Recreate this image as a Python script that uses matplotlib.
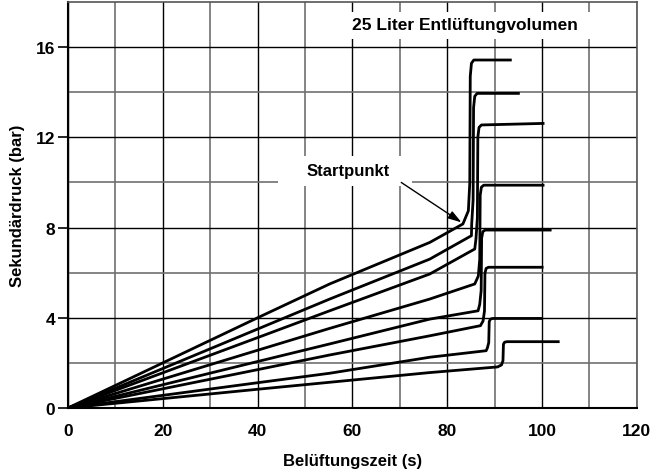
import matplotlib.pyplot as plt
from matplotlib.patches import Rectangle

plt.rcParams['font.family'] = ['Liberation Sans', 'DejaVu Sans']
plt.rcParams['font.weight'] = 'bold'

# ramp points (time s, pressure bar), one list per curve
ramp_x = [
    [0, 40, 55.2, 76.3, 83.3],
    [0, 40, 55.2, 76.3, 85.1],
    [0, 40, 55.2, 76.3, 85.8],
    [0, 40, 55.2, 76.3, 85.8],
    [0, 40, 55.2, 76.3, 86.5],
    [0, 40, 55.2, 76.3, 87.0],
    [0, 40, 55.2, 76.3, 88.2],
    [0, 40, 55.2, 76.3, 90.6],
]
ramp_y = [
    [0, 4.0, 5.50, 7.34, 8.16],
    [0, 3.5, 4.83, 6.60, 7.64],
    [0, 3.12, 4.31, 5.94, 7.05],
    [0, 2.56, 3.53, 4.83, 5.50],
    [0, 2.06, 2.84, 3.94, 4.31],
    [0, 1.70, 2.35, 3.20, 3.65],
    [0, 1.12, 1.54, 2.25, 2.54],
    [0, 0.83, 1.14, 1.57, 1.82],
]
jump_x = [84.8, 85.5, 86.4, 86.9, 87.2, 87.9, 88.8, 91.8]
plateau = [15.43, 13.95, 12.55, 9.88, 7.89, 6.24, 3.97, 2.94]
plateau_end = [15.43, 13.95, 12.62, 9.88, 7.89, 6.24, 3.97, 2.94]
end_x = [93.6, 95.3, 100.5, 100.5, 102.0, 100.3, 100.2, 103.7]

fig = plt.figure(figsize=(6.6, 4.77), dpi=100)
ax = fig.add_axes([0.103, 0.1426, 0.862, 0.851])

for i in range(len(plateau)):
    knee = ramp_y[i][-1]
    d = plateau[i] - knee
    xs = ramp_x[i] + [jump_x[i] - 0.35, jump_x[i] - 0.05, jump_x[i] + 0.05,
                      jump_x[i] + 0.3, jump_x[i] + 0.8, end_x[i]]
    ys = ramp_y[i] + [knee + 0.08 * d, knee + 0.25 * d, plateau[i] - 0.1 * d,
                      plateau[i] - 0.02 * d, plateau[i], plateau_end[i]]
    ax.plot(xs, ys, color='black', lw=2.0, solid_joinstyle='round',
            solid_capstyle='butt', zorder=3)

ax.set_xlim(0, 120)
ax.set_ylim(0, 18)
ax.set_xticks(range(0, 121, 20))
ax.set_xticks(range(10, 121, 20), minor=True)
ax.set_yticks([0, 4, 8, 12, 16])
ax.set_yticks([2, 6, 10, 14], minor=True)
ax.grid(which='major', color='black', lw=1.0, zorder=1)
ax.grid(which='minor', color='#707070', lw=1.2, zorder=1)
ax.set_axisbelow(True)
ax.tick_params(axis='x', which='both', length=0, pad=11, labelsize=12.5)
ax.tick_params(axis='y', which='major', length=7, width=1.2, pad=2, labelsize=12.5)
ax.tick_params(axis='y', which='minor', length=0)
for lab in ax.get_xticklabels() + ax.get_yticklabels():
    lab.set_fontweight('bold')

for s in ['left', 'bottom']:
    ax.spines[s].set_linewidth(1.5)
for s in ['top', 'right']:
    ax.spines[s].set_color('#555555')
    ax.spines[s].set_linewidth(1.2)

ax.set_xlabel('Belüftungszeit (s)', fontsize=12, fontweight='bold')
ax.set_ylabel('Sekundärdruck (bar)', fontsize=12, fontweight='bold')
ax.xaxis.set_label_coords(0.5, -0.11)
ax.yaxis.set_label_coords(-0.088, 0.5)
ax.yaxis.label.set_va('center')

# title box covering grid
ax.add_patch(Rectangle((58.4, 16.36), 61.5, 1.2, facecolor='white',
                       edgecolor='none', zorder=2))
ax.text(59.9, 17.0, '25 Liter Entlüftungvolumen', fontsize=12.5,
        fontweight='bold', va='center', ha='left', zorder=4)

# Startpunkt label and arrow
ax.add_patch(Rectangle((44.3, 9.84), 28.2, 1.33, facecolor='white',
                       edgecolor='none', zorder=2))
ax.text(59.2, 10.55, 'Startpunkt', fontsize=12, fontweight='bold',
        va='center', ha='center', zorder=4)
ax.annotate('', xy=(83.0, 8.23), xytext=(70.3, 10.0),
            arrowprops=dict(arrowstyle='-|>,head_length=0.8,head_width=0.25',
                            color='black', lw=1.0, shrinkA=0, shrinkB=0),
            zorder=4)

fig.savefig('out.png', dpi=100)
